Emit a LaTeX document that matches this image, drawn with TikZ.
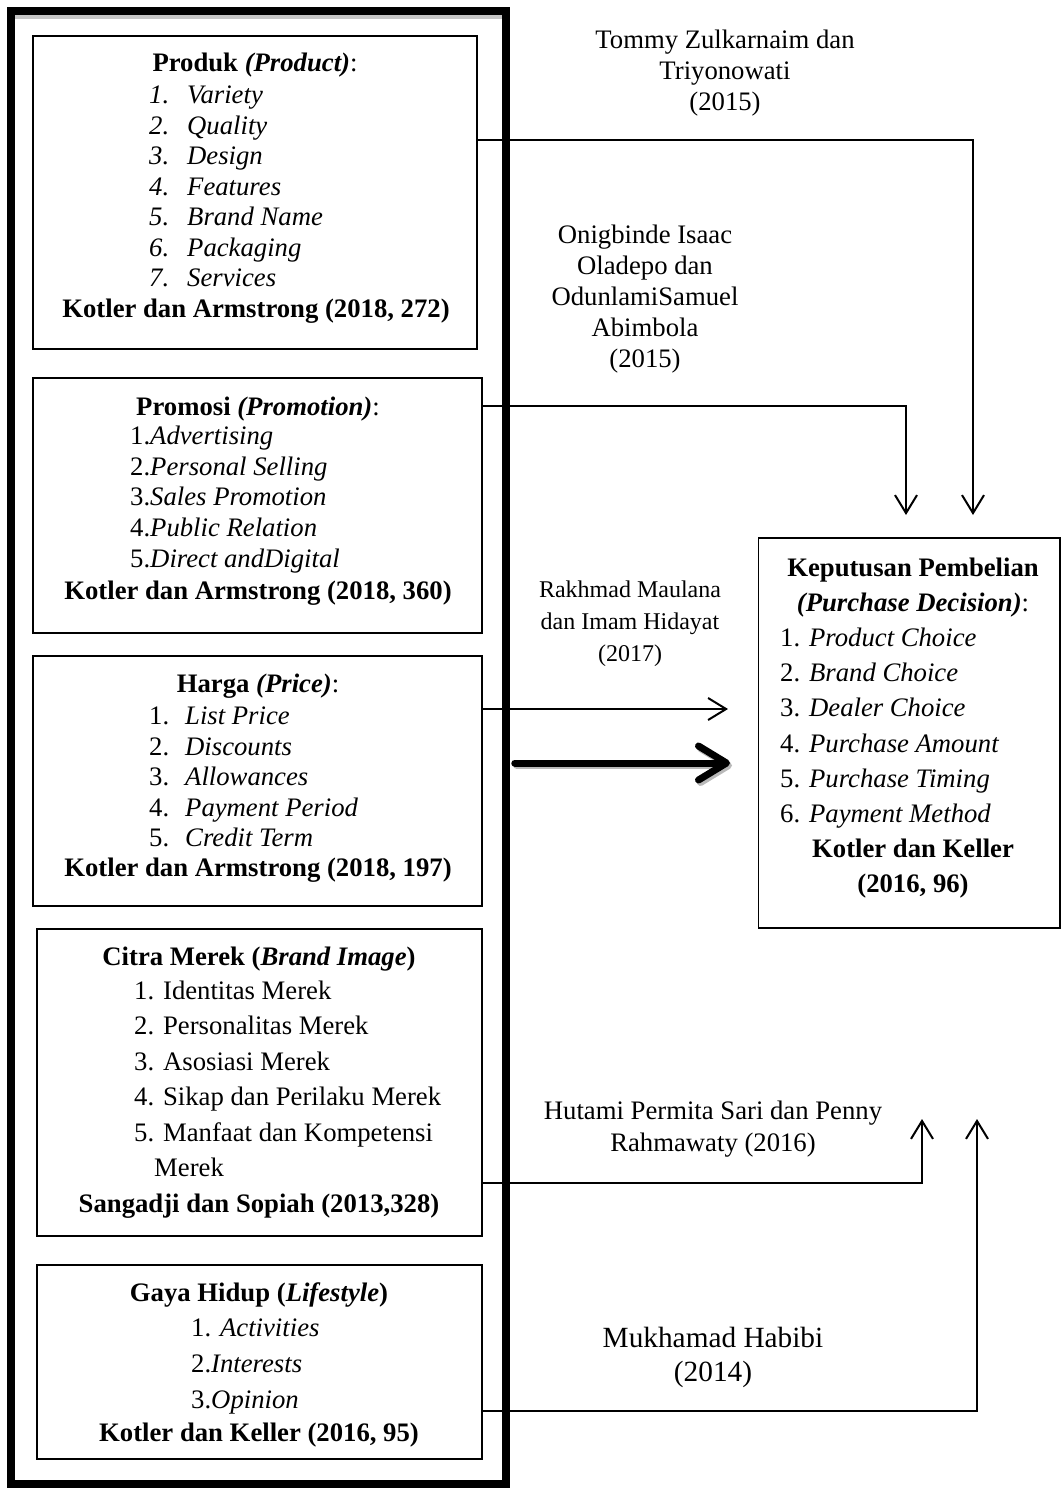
\documentclass[tikz,border=0pt]{standalone}
\usepackage{fontspec}
\setmainfont{Liberation Serif}
\usetikzlibrary{arrows.meta}

\tikzset{
  box/.style={draw, line width=1.8pt, inner sep=0pt},
  link/.style={line width=2pt},
  conn/.style={link, -{Straight Barb[length=18pt,width=22pt]}},
  bigarrow/.style={line width=7pt, line cap=round, -{Straight Barb[length=28pt,width=34pt,line cap=round,line join=round]}},
  txt/.style={inner sep=0pt, anchor=base, font=\fontsize{26.7}{30.5}\selectfont},
  item/.style={txt, anchor=base west},
  cite/.style={inner sep=0pt, align=center, font=\fontsize{26.7}{31}\selectfont},
}

\begin{document}
\begin{tikzpicture}[x=1pt, y=-1pt]
\useasboundingbox (0,0) rectangle (1061,1488);

% Outer frame
\fill[gray!45] (14,15) rectangle (502,19.5);
\node[draw, line width=7.5pt, inner sep=0pt, minimum width=495pt, minimum height=1473pt] (frame) at (258.5,747.5) {};

% Produk
\node[box, minimum width=444pt, minimum height=313pt] (produk) at (255,192.5) {};
\node[txt] (prodTitle) at (255,71.5) {\textbf{Produk \textit{(Product)}}:};
\foreach \t [count=\i] in {Variety,Quality,Design,Features,Brand Name,Packaging,Services}
  \node[item] (prod\i) at (149,{103.5+30.5*(\i-1)}) {\makebox[38pt][l]{\textit{\i.}}\textit{\t}};
\node[txt] (prodCite) at (256,317.5) {\textbf{Kotler dan Armstrong (2018, 272)}};

% Promosi
\node[box, minimum width=449pt, minimum height=255pt] (promosi) at (257.5,505.5) {};
\node[txt] (promTitle) at (258,415.5) {\textbf{Promosi \textit{(Promotion)}}:};
\foreach \t [count=\i] in {Advertising,Personal Selling,Sales Promotion,Public Relation,Direct andDigital}
  \node[item] (prom\i) at (130,{444.5+30.7*(\i-1)}) {\i.\textit{\t}};
\node[txt] (promCite) at (258,599.5) {\textbf{Kotler dan Armstrong (2018, 360)}};

% Harga
\node[box, minimum width=449pt, minimum height=250pt] (harga) at (257.5,781) {};
\node[txt] (hrgTitle) at (258,692.5) {\textbf{Harga \textit{(Price)}}:};
\foreach \t [count=\i] in {List Price,Discounts,Allowances,Payment Period,Credit Term}
  \node[item] (hrg\i) at (149,{724.5+30.5*(\i-1)}) {\makebox[36pt][l]{\i.}\textit{\t}};
\node[txt] (hrgCite) at (258,876.5) {\textbf{Kotler dan Armstrong (2018, 197)}};

% Citra Merek
\node[box, minimum width=445pt, minimum height=307pt] (citra) at (259.5,1082.5) {};
\node[txt] (ctrTitle) at (259,965.5) {\textbf{Citra Merek (\textit{Brand Image})}};
\foreach \t [count=\i] in {Identitas Merek,Personalitas Merek,Asosiasi Merek,Sikap dan Perilaku Merek,Manfaat dan Kompetensi}
  \node[item] (ctr\i) at (134,{999.5+35.4*(\i-1)}) {\i. \t};
\node[item] (ctr5b) at (154,1176.5) {Merek};
\node[txt] (ctrCite) at (259,1212.5) {\textbf{Sangadji dan Sopiah (2013,328)}};

% Gaya Hidup
\node[box, minimum width=445pt, minimum height=194pt] (gaya) at (259.5,1362) {};
\node[txt] (gyTitle) at (259,1301.5) {\textbf{Gaya Hidup (\textit{Lifestyle})}};
\node[item] (gy1) at (191,1336.5) {1. \textit{Activities}};
\node[item] (gy2) at (191,1372.5) {2.\textit{Interests}};
\node[item] (gy3) at (191,1408.5) {3.\textit{Opinion}};
\node[txt] (gyCite) at (259,1441.5) {\textbf{Kotler dan Keller (2016, 95)}};

% Keputusan Pembelian
\node[box, minimum width=301.5pt, minimum height=390pt] (kep) at (909.25,733) {};
\node[txt] (kepTitle) at (913,576.5) {\textbf{Keputusan Pembelian}};
\node[txt] (kepSub) at (913,611.5) {\textbf{\textit{(Purchase Decision)}}:};
\foreach \t [count=\i] in {Product Choice,Brand Choice,Dealer Choice,Purchase Amount,Purchase Timing,Payment Method}
  \node[item] (kep\i) at (780,{646.5+35.2*(\i-1)}) {\i. \textit{\t}};
\node[txt] (kepCite) at (913,857.5) {\textbf{Kotler dan Keller}};
\node[txt] (kepYear) at (913,892.5) {\textbf{(2016, 96)}};

% Researchers
\node[cite] (tommy) at (725,73.5) {Tommy Zulkarnaim dan\\Triyonowati\\(2015)};
\node[cite] (oni) at (645,299) {Onigbinde Isaac\\Oladepo dan\\OdunlamiSamuel\\Abimbola\\(2015)};
\node[cite, font=\fontsize{24}{32}\selectfont] (rakhmad) at (630,623.5) {Rakhmad Maulana\\dan Imam Hidayat\\(2017)};
\node[cite, font=\fontsize{26.7}{32}\selectfont] (hutami) at (713,1129) {Hutami Permita Sari dan Penny\\Rahmawaty (2016)};
\node[cite, font=\fontsize{29.3}{34}\selectfont] (habibi) at (713,1357.5) {Mukhamad Habibi\\(2014)};

% Connectors
\coordinate (inTommy) at (973,515);
\coordinate (inOni) at (906,515);
\coordinate (inRakhmad) at (728,709);
\coordinate (inHutami) at (922,1119);
\coordinate (inHabibi) at (977,1119);
\coordinate (inSimul) at (730,763);

\draw[conn] ([yshift=52.5pt]produk.east) -| (inTommy);
\draw[conn] ([yshift=99.5pt]promosi.east) -| (inOni);
\draw[conn] ([yshift=72pt]harga.east) -- (inRakhmad);
\draw[conn] ([yshift=-100.5pt]citra.east) -| (inHutami);
\draw[conn] ([yshift=-49pt]gaya.east) -| (inHabibi);

% Simultaneous arrow
\draw[bigarrow, gray!55] ([xshift=7pt,yshift=-2.5pt]frame.east |- inSimul) -- ([xshift=2pt,yshift=-2.5pt]inSimul);
\draw[bigarrow] ([xshift=5pt]frame.east |- inSimul) -- (inSimul);
\end{tikzpicture}
\end{document}
